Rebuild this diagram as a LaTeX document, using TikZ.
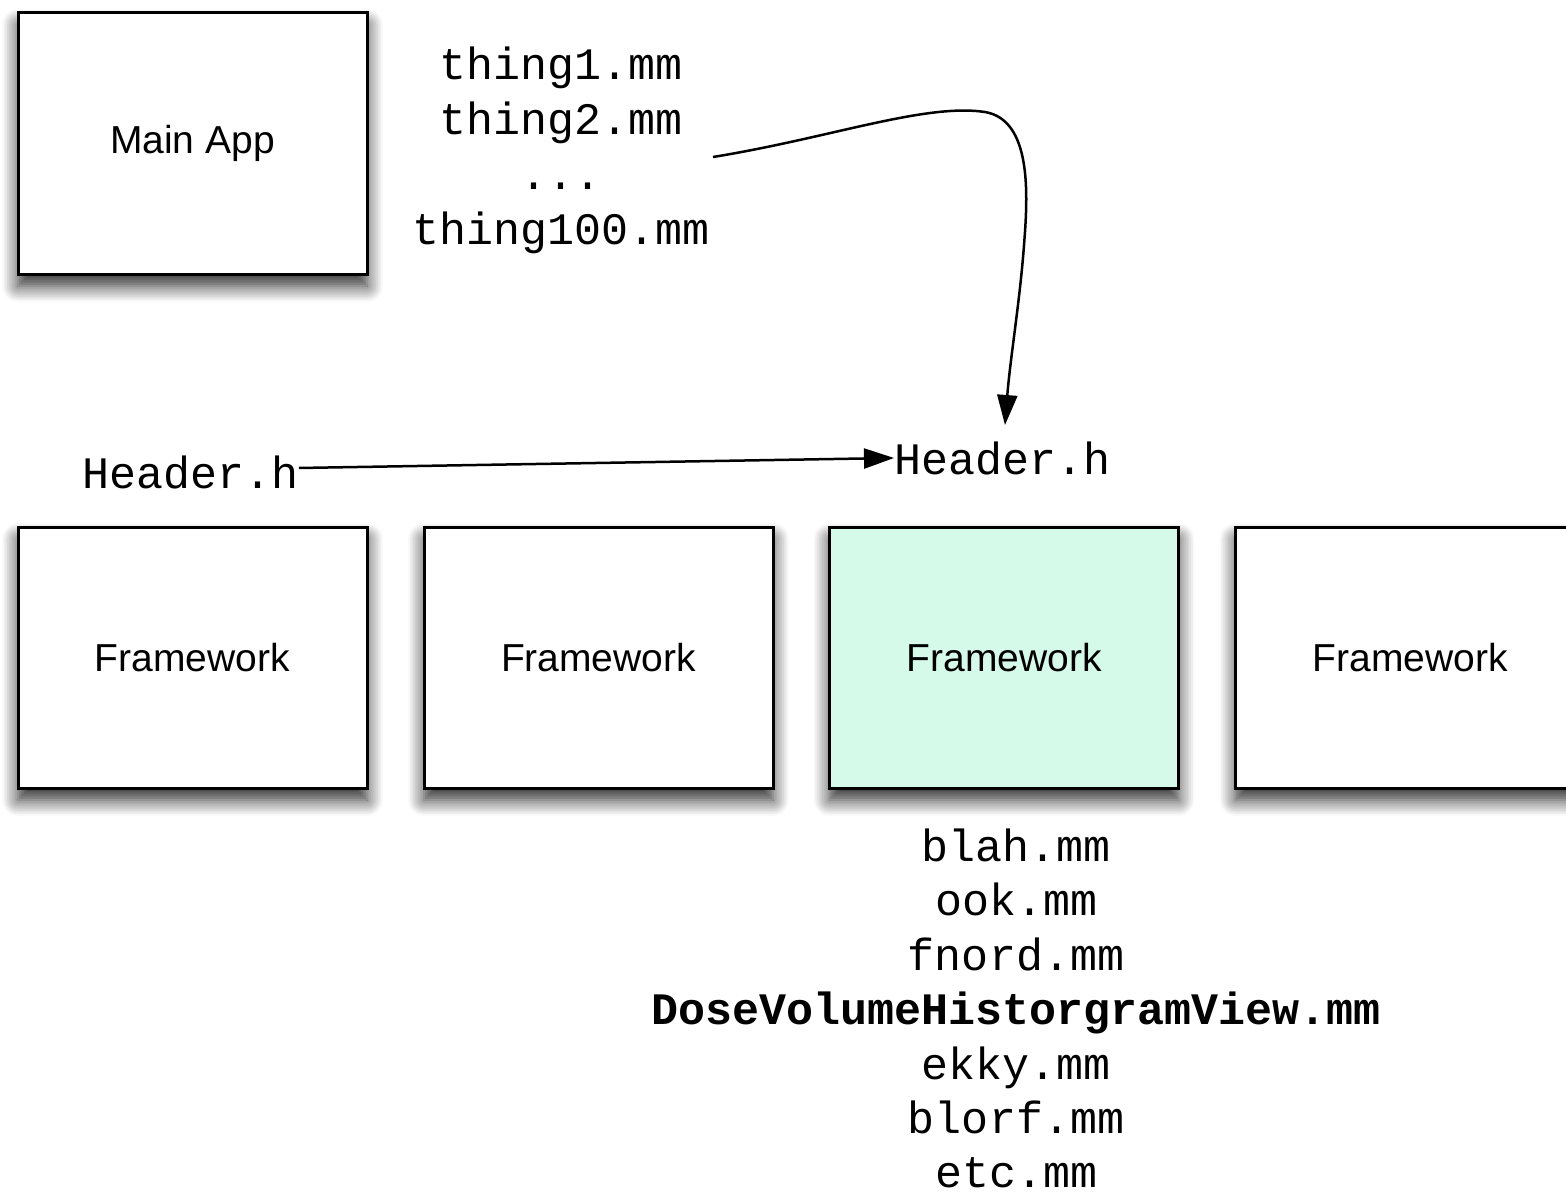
\documentclass[tikz,border=0pt]{standalone}
\usepackage{fontspec}
\setmainfont{Liberation Sans}
\newfontfamily\codefont{Liberation Mono}
\usetikzlibrary{arrows.meta,shadows.blur}

\definecolor{mint}{RGB}{214,250,233}

\begin{document}
\begin{tikzpicture}[x=0.5pt,y=-0.5pt,
  box/.style={draw=black,line width=1.5pt,fill=white,minimum width=174.5pt,
    minimum height=130.5pt,inner sep=0pt,
    font=\fontsize{19.5}{23}\selectfont,
    blur shadow={shadow xshift=0pt,shadow yshift=-6pt,shadow blur radius=8pt,
      shadow blur steps=10,shadow opacity=85}},
  code/.style={inner sep=0pt,anchor=base,font=\codefont\fontsize{22.5}{27}\selectfont},
  link/.style={line width=1.25pt,-{Triangle[length=15pt,width=10pt]}}]
\useasboundingbox (0,0) rectangle (1566,1193);
\clip (0,0) rectangle (1566,1193);

% main application
\node[box] (app) at (192.5,143.5) {Main App};

% row of frameworks
\node[box] (fw1) at (192.5,657.5) {Framework};
\node[box] (fw2) at (598.5,657.5) {Framework};
\node[box,fill=mint] (fw3) at (1004,657.5) {Framework};
\node[box] (fw4) at (1410,657.5) {Framework};

% sources of the main application
\node[code] (t1)   at (561,80)  {thing1.mm};
\node[code] (t2)   at (561,134.7) {thing2.mm};
\node[code] (tdot) at (561,189.3) {...};
\node[code] (t100) at (561,244) {thing100.mm};

% headers
\node[code,anchor=base west] (hdrL) at (82,488) {Header.h};
\node[code,anchor=base west] (hdrR) at (894,474) {Header.h};

% sources of the highlighted framework
\node[code] (s1) at (1016,861)    {blah.mm};
\node[code] (s2) at (1016,915.5)  {ook.mm};
\node[code] (s3) at (1016,970)    {fnord.mm};
\node[code] (s4) at (1016,1024.5) {\bfseries DoseVolumeHistorgramView.mm};
\node[code] (s5) at (1016,1079)   {ekky.mm};
\node[code] (s6) at (1016,1133.5) {blorf.mm};
\node[code] (s7) at (1016,1187.5) {etc.mm};

% connectors
\coordinate (curveStart) at (713,157);
\coordinate (curveEnd) at (1005,425);
\draw[link] (curveStart) .. controls (830,138) and (925,103) .. (985,112)
  .. controls (1032,120) and (1028,195) .. (1024,245)
  .. controls (1020,300) and (1010,360) .. (curveEnd);
\draw[link] ([yshift=2pt]hdrL.east) -- (hdrR.west);
\end{tikzpicture}
\end{document}
